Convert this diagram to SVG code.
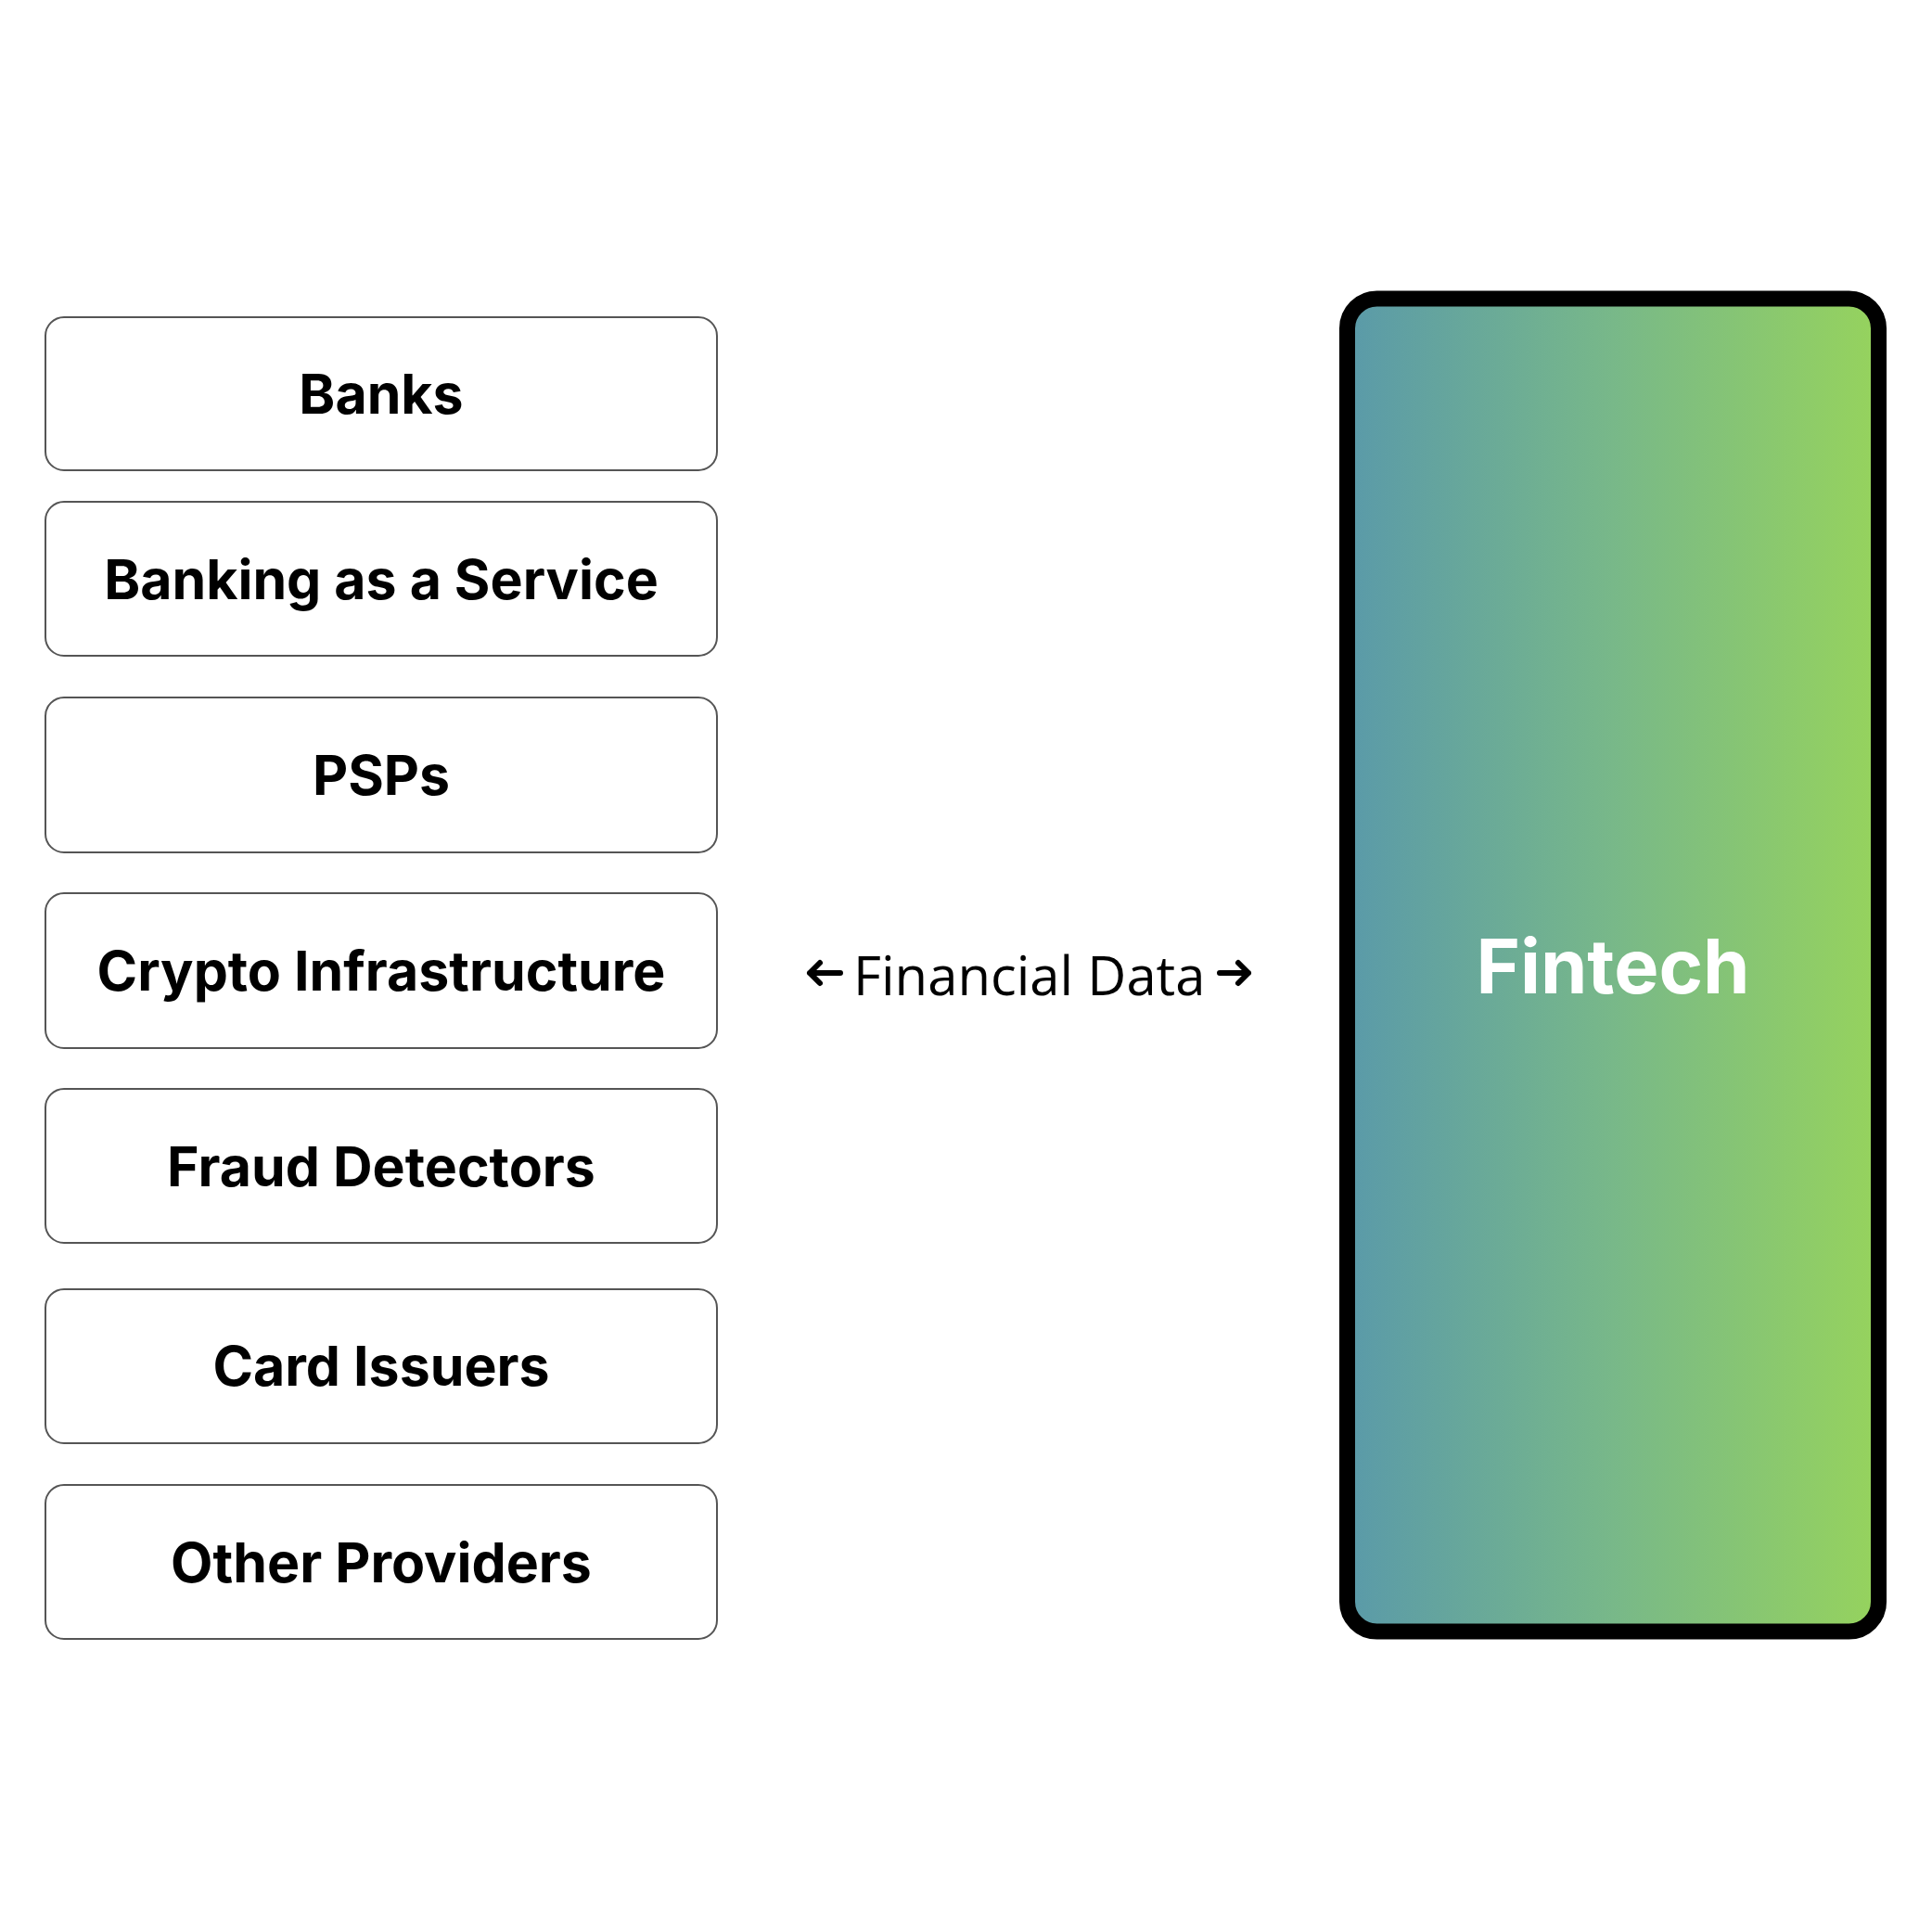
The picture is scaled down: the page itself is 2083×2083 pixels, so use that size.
<svg xmlns="http://www.w3.org/2000/svg" width="2083" height="2083" viewBox="0 0 2083 2083">
<style>
.box{fill:#fff;stroke:#555;stroke-width:2}
.lbl{font-family:Inter,"Liberation Sans",sans-serif;font-weight:700;font-size:59px;fill:#000;text-anchor:middle}
.big{font-family:Inter,"Liberation Sans",sans-serif;font-weight:700;font-size:81px;fill:#fff;text-anchor:middle}
.edge{font-family:"Open Sans","Liberation Sans",sans-serif;font-size:58px;fill:#000}
.arr{fill:none;stroke:#000;stroke-width:6;stroke-linecap:round;stroke-linejoin:round}
</style>
<defs>
<linearGradient id="g" x1="0" y1="0" x2="1" y2="0">
<stop offset="0" stop-color="#5a9aa9"/>
<stop offset="0.5" stop-color="#78b889"/>
<stop offset="1" stop-color="#96d35d"/>
</linearGradient>
</defs>
<rect width="2083" height="2083" fill="#fff"/>
<g id="banks"><rect class="box" x="49" y="342" width="724" height="165" rx="20"/><text class="lbl" x="411" y="446">Banks</text></g>
<g id="baas"><rect class="box" x="49" y="541" width="724" height="166" rx="20"/><text class="lbl" x="411" y="646">Banking as a Service</text></g>
<g id="psps"><rect class="box" x="49" y="752" width="724" height="167" rx="20"/><text class="lbl" x="411" y="857">PSPs</text></g>
<g id="crypto"><rect class="box" x="49" y="963" width="724" height="167" rx="20"/><text class="lbl" x="411" y="1068">Crypto Infrastructure</text></g>
<g id="fraud"><rect class="box" x="49" y="1174" width="724" height="166" rx="20"/><text class="lbl" x="411" y="1279">Fraud Detectors</text></g>
<g id="card"><rect class="box" x="49" y="1390" width="724" height="166" rx="20"/><text class="lbl" x="411" y="1494">Card Issuers</text></g>
<g id="other"><rect class="box" x="49" y="1601" width="724" height="166" rx="20"/><text class="lbl" x="411" y="1706">Other Providers</text></g>
<g id="fintech"><rect x="1452.5" y="322" width="573" height="1437" rx="32" fill="url(#g)" stroke="#000" stroke-width="17"/><text class="big" x="1739" y="1071">Fintech</text></g>
<g id="connectors">
<path class="arr" d="M906 1049H873M884 1038L873 1049L884 1060"/>
<path class="arr" d="M1315 1049H1346M1335 1038L1346 1049L1335 1060"/>
</g>
<g id="edge-label"><text class="edge" x="920" y="1073">Financial Data</text></g>
</svg>
